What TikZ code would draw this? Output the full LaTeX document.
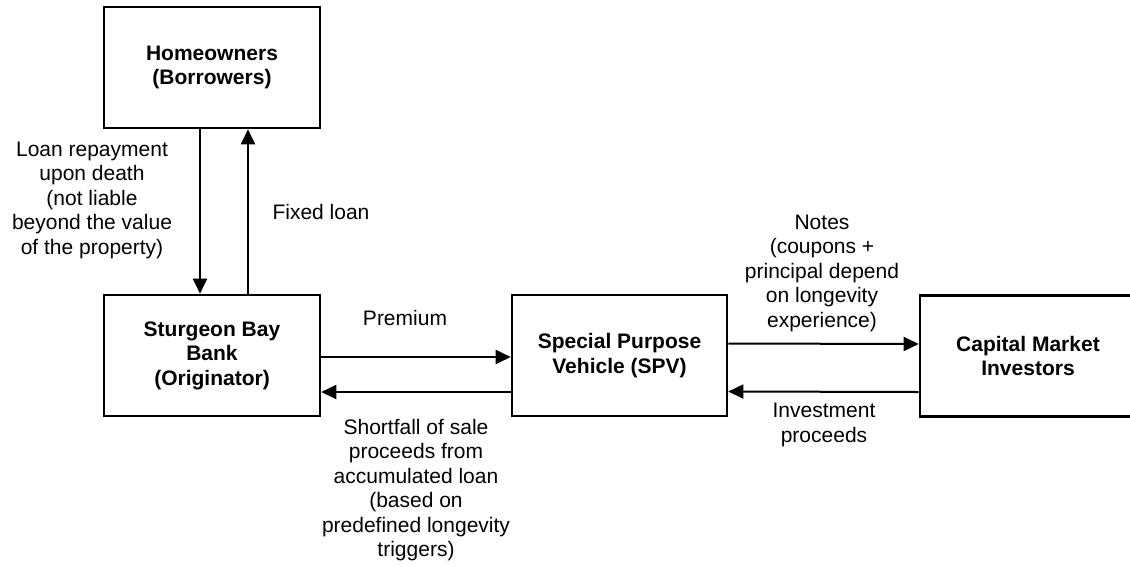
\documentclass[tikz,border=0pt]{standalone}
\usepackage{fontspec}
\setmainfont{Liberation Sans}
\usetikzlibrary{arrows.meta}

\begin{document}
\begin{tikzpicture} [
  x=1pt, y=-1pt,
  box/.style={draw,line width=2.6pt,minimum width=216pt,minimum height=121pt,
    align=center,inner sep=0pt,font=\fontsize{21}{24.5}\selectfont\bfseries},
  lbl/.style={align=center,inner sep=0pt,font=\fontsize{21}{24.5}\selectfont},
  flow/.style={line width=2pt,-{Triangle[length=15pt,width=14pt]}}
  ]
  \clip (0,0) rectangle (1130,566);
  \node (home) [box] at (212,67.5) {Homeowners\\(Borrowers)};
  \node (bank) [box] at (212,355.5) {Sturgeon Bay\\Bank\\(Originator)};
  \node (spv) [box,minimum width=215pt] at (619.5,355.5) {Special Purpose\\Vehicle (SPV)};
  \node (cmi) [box] at (1028,356) {Capital Market\\Investors};

  \draw [flow] ([xshift=-12pt]home.south) -- ([xshift=-12pt]bank.north);
  \draw [flow] ([xshift=36pt]bank.north) -- ([xshift=36pt]home.south);
  \draw [flow] ([yshift=-1.5pt]bank.east) -- ([yshift=-1.5pt]spv.west);
  \draw [flow] ([yshift=-36.5pt]spv.west) -- ([yshift=-36.5pt]bank.east);
  \draw [flow] ([yshift=12pt]spv.east) -- ([yshift=12pt]cmi.west);
  \draw [flow] ([yshift=-36pt]cmi.west) -- ([yshift=-36pt]spv.east);

  \node (repay) [lbl] at (92,200) {Loan repayment\\upon death\\(not liable\\beyond the value\\of the property)};
  \node (fixed) [lbl] at (321,212) {Fixed loan};
  \node (prem) [lbl] at (405,318) {Premium};
  \node (short) [lbl] at (416,490) {Shortfall of sale\\proceeds from\\accumulated loan\\(based on\\predefined longevity\\triggers)};
  \node (notes) [lbl] at (822,273) {Notes\\(coupons +\\principal depend\\on longevity\\experience)};
  \node (invest) [lbl] at (824,425) {Investment\\proceeds};
\end{tikzpicture}
\end{document}
